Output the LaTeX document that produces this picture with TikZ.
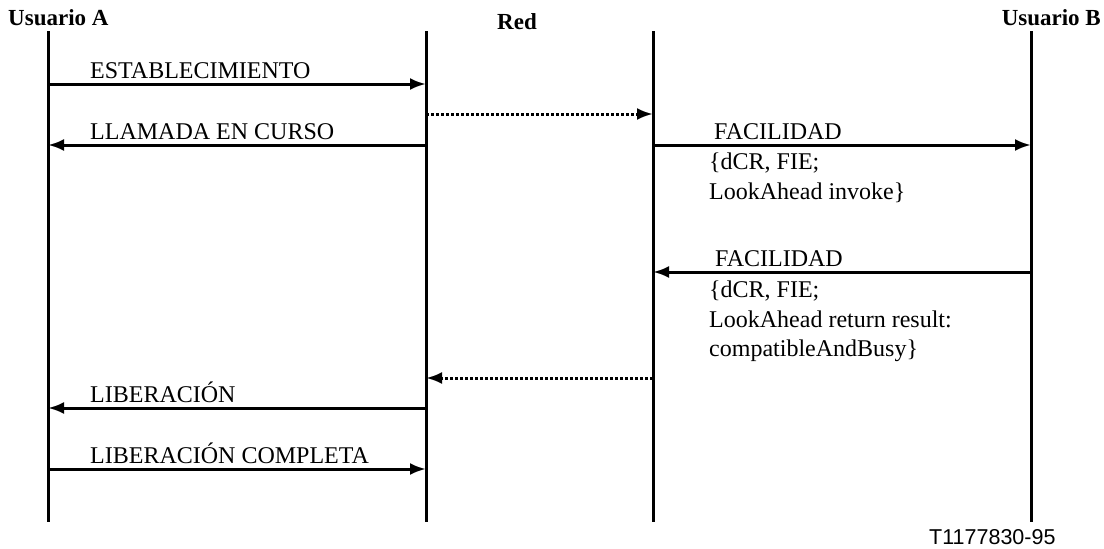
\documentclass[tikz,border=0pt]{standalone}
\usepackage{fontspec}
\setmainfont{Liberation Serif}
\setsansfont{Liberation Sans}
\usetikzlibrary{arrows.meta}

\tikzset{
  life/.style={line width=3pt},
  msg/.style={line width=3pt, -{Latex[length=16pt,width=12pt]}},
  relay/.style={msg, dash pattern=on 3pt off 2pt},
  lbl/.style={anchor=base west, inner sep=0pt, font=\fontsize{24}{29.5}\selectfont},
  info/.style={anchor=north west, inner sep=0pt, align=left, font=\fontsize{24}{29.5}\selectfont},
  head/.style={inner sep=0pt, font=\fontsize{23}{26}\selectfont\bfseries}
}

\begin{document}
\begin{tikzpicture}[x=1pt, y=-1pt]

\useasboundingbox (0,0) rectangle (1104,549);

% lifelines
\coordinate (ua) at (48,31);   \coordinate (uaend) at (48,522);
\coordinate (red1) at (426,31); \coordinate (red1end) at (426,522);
\coordinate (red2) at (653,31); \coordinate (red2end) at (653,522);
\coordinate (ub) at (1031,31); \coordinate (ubend) at (1031,522);

\draw[life] (ua) -- (uaend);
\draw[life] (red1) -- (red1end);
\draw[life] (red2) -- (red2end);
\draw[life] (ub) -- (ubend);

\node[head, anchor=base west] (hua) at (8,25) {Usuario A};
\node[head, anchor=base] (hred) at (517,29) {Red};
\node[head, anchor=base east] (hub) at (1101,25) {Usuario B};

% message rows
\coordinate (r1) at (0,84);
\coordinate (r2) at (0,114);
\coordinate (r3) at (0,145);
\coordinate (r4) at (0,272);
\coordinate (r5) at (0,378);
\coordinate (r6) at (0,408);
\coordinate (r7) at (0,469);

\draw[msg] (ua |- r1) -- (red1 |- r1);
\node[lbl] (lestab) at (90,78) {ESTABLECIMIENTO};

\draw[relay] (red1 |- r2) -- (red2 |- r2);

\draw[msg] (red1 |- r3) -- (ua |- r3);
\node[lbl] (lcurso) at (90,139) {LLAMADA EN CURSO};

\draw[msg] (red2 |- r3) -- (ub |- r3);
\node[lbl] (lfac1) at (714,139) {FACILIDAD};
\node[info] (ifac1) at (709,153) {\{dCR, FIE;\\LookAhead invoke\}};

\draw[msg] (ub |- r4) -- (red2 |- r4);
\node[lbl] (lfac2) at (715,266) {FACILIDAD};
\node[info] (ifac2) at (709,281) {\{dCR, FIE;\\LookAhead return result:\\compatibleAndBusy\}};

\draw[relay] (red2 |- r5) -- (red1 |- r5);

\draw[msg] (red1 |- r6) -- (ua |- r6);
\node[lbl] (llib) at (90,402) {LIBERACIÓN};

\draw[msg] (ua |- r7) -- (red1 |- r7);
\node[lbl] (llibc) at (90,463) {LIBERACIÓN COMPLETA};

\node[anchor=base west, inner sep=0pt, font=\sffamily\fontsize{21.5}{24}\selectfont] (ref) at (929,544) {T1177830-95};

\end{tikzpicture}
\end{document}
